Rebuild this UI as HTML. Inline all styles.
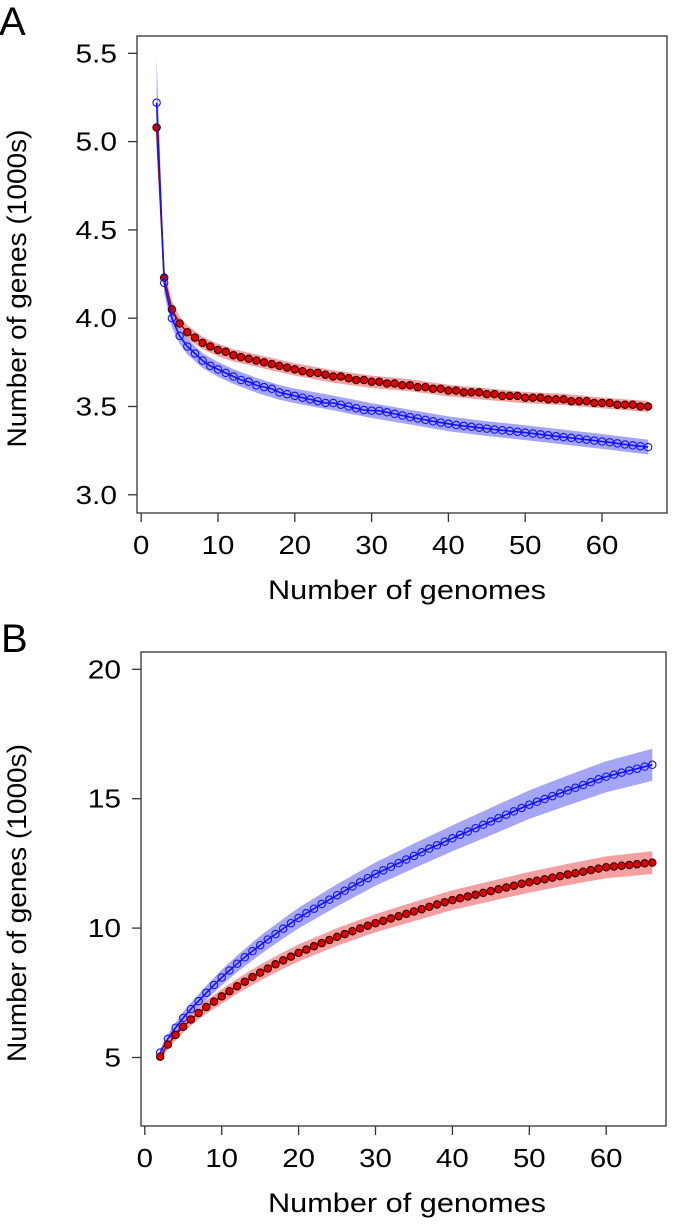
<!DOCTYPE html>
<html><head><meta charset="utf-8">
<style>
html,body{margin:0;padding:0;background:#fff;}
svg{display:block;font-family:"Liberation Sans",Arial,sans-serif;}
</style></head>
<body>
<svg id="fig" width="675" height="1225" viewBox="0 0 675 1225" xmlns="http://www.w3.org/2000/svg">
<text x="-1" y="35" font-size="40" fill="#000">A</text>
<text x="1" y="652" font-size="40" fill="#000">B</text>
</svg>
<script>
// ---------- data ----------
const genomes = [];
for (let n = 2; n <= 66; n++) genomes.push(n);

const coreRedA = [5.08,4.23,4.05,3.97,3.92,3.89,3.86,3.84,3.82,3.81,3.79,3.78,3.77,3.76,3.75,3.74,3.73,3.72,3.71,3.70,3.69,3.69,3.68,3.67,3.67,3.66,3.65,3.65,3.64,3.64,3.63,3.63,3.62,3.62,3.61,3.61,3.60,3.60,3.59,3.59,3.58,3.58,3.58,3.57,3.57,3.56,3.56,3.56,3.55,3.55,3.55,3.54,3.54,3.54,3.53,3.53,3.53,3.52,3.52,3.52,3.51,3.51,3.51,3.50,3.50];
const coreBlueA = [5.22,4.20,4.00,3.90,3.84,3.80,3.76,3.73,3.71,3.69,3.67,3.65,3.64,3.62,3.61,3.60,3.58,3.57,3.56,3.55,3.54,3.53,3.52,3.52,3.51,3.50,3.49,3.48,3.477,3.476,3.467,3.458,3.449,3.440,3.432,3.424,3.416,3.409,3.402,3.395,3.390,3.385,3.380,3.375,3.370,3.365,3.361,3.356,3.352,3.347,3.342,3.337,3.332,3.327,3.322,3.317,3.312,3.307,3.302,3.297,3.291,3.285,3.280,3.275,3.270,3.264].slice(0,65);
const panBlueB = [5.19,5.72,6.15,6.53,6.87,7.18,7.5,7.8,8.09,8.36,8.62,8.87,9.11,9.34,9.56,9.77,9.98,10.19,10.39,10.57,10.75,10.93,11.1,11.27,11.44,11.61,11.77,11.93,12.09,12.23,12.37,12.51,12.65,12.79,12.93,13.07,13.2,13.34,13.47,13.6,13.73,13.86,13.99,14.12,14.25,14.38,14.51,14.64,14.77,14.88,14.99,15.1,15.21,15.32,15.42,15.53,15.64,15.75,15.85,15.93,16.01,16.09,16.16,16.24,16.31];
const panRedB = [5.03,5.5,5.87,6.19,6.47,6.72,6.95,7.16,7.36,7.56,7.75,7.93,8.11,8.28,8.44,8.6,8.75,8.9,9.04,9.17,9.3,9.42,9.54,9.66,9.77,9.88,9.99,10.09,10.19,10.28,10.37,10.46,10.55,10.64,10.73,10.82,10.91,11.0,11.08,11.15,11.22,11.29,11.36,11.43,11.5,11.57,11.64,11.71,11.77,11.83,11.89,11.95,12.01,12.07,12.12,12.18,12.24,12.3,12.35,12.38,12.41,12.44,12.47,12.5,12.53];

const bandN = [2,3,4,5,6,7,8,10,12,15,18,20,25,30,35,40,45,50,55,60,66];
const bandRedA = [0.06,0.05,0.045,0.04,0.04,0.037,0.035,0.035,0.035,0.035,0.035,0.035,0.035,0.035,0.034,0.033,0.033,0.032,0.032,0.031,0.031];
const bandBlueA = [0.25,0.06,0.05,0.045,0.045,0.043,0.042,0.042,0.042,0.042,0.042,0.042,0.042,0.042,0.042,0.042,0.042,0.042,0.042,0.042,0.042];
const bandRedB = [0.15,0.18,0.2,0.22,0.24,0.25,0.26,0.28,0.29,0.31,0.32,0.33,0.34,0.35,0.37,0.38,0.39,0.4,0.41,0.42,0.44];
const bandBlueB = [0.15,0.18,0.2,0.23,0.25,0.27,0.28,0.3,0.32,0.36,0.38,0.4,0.43,0.45,0.48,0.5,0.53,0.55,0.58,0.6,0.62];

const xTicks = [0,10,20,30,40,50,60];
const yTicksA = [3.0,3.5,4.0,4.5,5.0,5.5];
const yTickLabelsA = ["3.0","3.5","4.0","4.5","5.0","5.5"];
const yTicksB = [5,10,15,20];
const yTickLabelsB = ["5","10","15","20"];

// ---------- drawing ----------
const NS = "http://www.w3.org/2000/svg";
const svg = document.getElementById('fig');
function mk(tag, attrs, parent) {
  const e = document.createElementNS(NS, tag);
  for (const k in attrs) e.setAttribute(k, attrs[k]);
  (parent || svg).appendChild(e);
  return e;
}

function drawPanel(cfg) {
  const g = mk('g', {});
  
  
  const X = v => cfg.x0 + v * cfg.xs;
  const Y = v => cfg.yRef - (v - cfg.yRefVal) * cfg.ys;

  cfg.series.forEach(s => {
    const up = [], lo = [];
    bandN.forEach((n, i) => {
      const m = s.vals[genomes.indexOf(n)];
      up.push(X(n).toFixed(1) + ',' + Y(m + s.band[i]).toFixed(1));
      lo.unshift(X(n).toFixed(1) + ',' + Y(m - s.band[i]).toFixed(1));
    });
    const p = mk('polygon', {points: up.concat(lo).join(' '), fill: s.bandColor, stroke: 'none'}, g);
    
    
  });
  cfg.series.forEach(s => {
    const pts = genomes.map((n, i) => X(n).toFixed(1) + ',' + Y(s.vals[i]).toFixed(1)).join(' ');
    const l = mk('polyline', {points: pts, fill: 'none', stroke: s.lineColor, 'stroke-width': 1.6}, g);
    
    
    genomes.forEach((n, i) => {
      const c = mk('circle', {cx: X(n).toFixed(1), cy: Y(s.vals[i]).toFixed(1), r: 3.7,
        fill: s.fill, stroke: s.stroke, 'stroke-width': 1.1}, g);
      
      
    });
  });
  const b = mk('rect', {x: cfg.bx0, y: cfg.by0, width: cfg.bx1 - cfg.bx0, height: cfg.by1 - cfg.by0,
    fill: 'none', stroke: '#333', 'stroke-width': 1.3}, g);
  
  
  xTicks.forEach(t => {
    const tk = mk('line', {x1: X(t), x2: X(t), y1: cfg.by1, y2: cfg.by1 + 9, stroke: '#333', 'stroke-width': 1.3}, g);
    
    
    const tx = mk('text', {x: X(t), y: cfg.by1 + 41, 'font-size': 26, 'text-anchor': 'middle', fill: '#000',
      transform: 'translate(' + X(t) + ',0) scale(1.13,1) translate(' + (-X(t)) + ',0)'}, g);
    tx.textContent = String(t);
    
    
  });
  cfg.yTicks.forEach((t, i) => {
    const tk = mk('line', {x1: cfg.bx0 - 9, x2: cfg.bx0, y1: Y(t), y2: Y(t), stroke: '#333', 'stroke-width': 1.3}, g);
    
    
    const rx = cfg.bx0 - 20;
    const tx = mk('text', {x: rx, y: Y(t) + 9, 'font-size': 26, 'text-anchor': 'end', fill: '#000',
      transform: 'translate(' + rx + ',0) scale(1.15,1) translate(' + (-rx) + ',0)'}, g);
    tx.textContent = cfg.yLabels[i];
    
    
  });
  const xt = mk('text', {x: 407, y: cfg.by1 + 86, 'font-size': 27, 'text-anchor': 'middle', fill: '#000',
    textLength: 278, lengthAdjust: 'spacingAndGlyphs'}, g);
  xt.textContent = 'Number of genomes';
  
  
  const cy = (cfg.by0 + cfg.by1) / 2 + 14;
  const yt = mk('text', {x: 0, y: 0, 'font-size': 27, 'text-anchor': 'middle', fill: '#000',
    textLength: 318, lengthAdjust: 'spacingAndGlyphs', transform: 'translate(26,' + cy + ') rotate(-90)'}, g);
  yt.textContent = 'Number of genes (1000s)';
  
  
}

drawPanel({
  name: 'panel-a-core-genome', x0: 141.2, xs: 7.68, yRef: 53.3, yRefVal: 5.5, ys: 176.6,
  bx0: 137, bx1: 667, by0: 36, by1: 513,
  yTicks: yTicksA, yLabels: yTickLabelsA,
  series: [
    {key: 'red-series', vals: coreRedA, band: bandRedA, bandColor: 'rgb(245,160,160)', lineColor: '#b00000', fill: '#e00000', stroke: '#300000'},
    {key: 'blue-series', vals: coreBlueA, band: bandBlueA, bandColor: 'rgb(165,165,245)', lineColor: '#1010ff', fill: 'none', stroke: '#1010ff'}
  ]
});
drawPanel({
  name: 'panel-b-pan-genome', x0: 144.8, xs: 7.69, yRef: 669.3, yRefVal: 20, ys: 25.88,
  bx0: 141, bx1: 666, by0: 652, by1: 1126,
  yTicks: yTicksB, yLabels: yTickLabelsB,
  series: [
    {key: 'blue-series', vals: panBlueB, band: bandBlueB, bandColor: 'rgb(165,165,245)', lineColor: '#1010ff', fill: 'none', stroke: '#1010ff'},
    {key: 'red-series', vals: panRedB, band: bandRedB, bandColor: 'rgb(245,160,160)', lineColor: '#b00000', fill: '#e00000', stroke: '#300000'}
  ]
});
</script>
</body></html>
